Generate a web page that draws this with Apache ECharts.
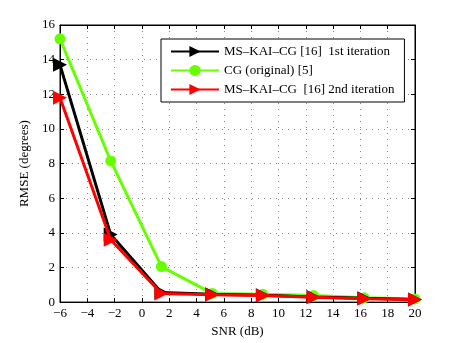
<!DOCTYPE html>
<html>
<head>
<meta charset="utf-8">
<script src="https://cdn.jsdelivr.net/npm/echarts@6/dist/echarts.min.js"></script>
<style>
  html, body { margin: 0; padding: 0; background: #fff; }
  #chart { width: 458px; height: 343px; }
</style>
</head>
<body>
<div id="chart"></div>
<script>
// SNR points (dB)
const snr = [-6, -2.286, 1.429, 5.143, 8.857, 12.571, 16.286, 20];

const firstIter = [13.7, 3.9, 0.55, 0.45, 0.4, 0.3, 0.22, 0.15];
const cgOriginal = [15.2, 8.15, 2.05, 0.5, 0.45, 0.38, 0.25, 0.18];
const secondIter = [11.8, 3.6, 0.5, 0.42, 0.38, 0.28, 0.2, 0.15];

const seriesNames = [
    'MS\u2013KAI\u2013CG [16]  1st iteration',
    'CG (original) [5]',
    'MS\u2013KAI\u2013CG  [16] 2nd iteration'
];

const xTicks = [-6, -4, -2, 0, 2, 4, 6, 8, 10, 12, 14, 16, 18, 20];
const yTicks = [0, 2, 4, 6, 8, 10, 12, 14, 16];

const font = 'Liberation Serif';

function pairs(ys) {
    return snr.map((x, i) => [x, ys[i]]);
}

const chart = echarts.init(document.getElementById('chart'));

const gridLine = { show: true, lineStyle: { color: '#888', type: [1, 5], width: 1 } };

chart.setOption({
    animation: false,
    grid: { left: 60, right: 43, top: 25, bottom: 39, show: true, borderColor: '#000', borderWidth: 1 },
    legend: {
        left: 161, top: 39, orient: 'vertical',
        itemWidth: 48, itemHeight: 14, itemGap: 6,
        padding: [6, 10, 6, 9],
        borderColor: '#000', borderWidth: 1, borderRadius: 0,
        backgroundColor: '#fff',
        textStyle: { fontFamily: font, fontSize: 13, color: '#000' },
        data: seriesNames
    },
    xAxis: [{
        type: 'value', min: -6, max: 20, interval: 2,
        name: 'SNR (dB)', nameLocation: 'middle', nameGap: 21,
        nameTextStyle: { fontFamily: font, fontSize: 13, color: '#000' },
        axisLine: { onZero: false, lineStyle: { color: '#000' } },
        axisTick: { inside: true, length: 4, lineStyle: { color: '#000' } },
        axisLabel: { fontFamily: font, fontSize: 13, color: '#000', margin: 5,
            formatter: v => xTicks.includes(v) ? String(v).replace('-', '\u2212') : '' },
        splitLine: gridLine
    }, {
        type: 'value', min: -6, max: 20, interval: 2, position: 'top',
        axisLine: { onZero: false, lineStyle: { color: '#000' } },
        axisTick: { inside: true, length: 4, lineStyle: { color: '#000' } },
        axisLabel: { show: false }, splitLine: { show: false }
    }],
    yAxis: [{
        type: 'value', min: 0, max: 16, interval: 2,
        name: 'RMSE (degrees)', nameLocation: 'middle', nameGap: 28,
        nameTextStyle: { fontFamily: font, fontSize: 13, color: '#000' },
        axisLine: { show: true, onZero: false, lineStyle: { color: '#000' } },
        axisTick: { show: true, inside: true, length: 4, lineStyle: { color: '#000' } },
        axisLabel: { fontFamily: font, fontSize: 13, color: '#000', margin: 5,
            formatter: v => yTicks.includes(v) ? String(v) : '' },
        splitLine: gridLine
    }, {
        type: 'value', min: 0, max: 16, interval: 2, position: 'right',
        axisLine: { show: true, onZero: false, lineStyle: { color: '#000' } },
        axisTick: { show: true, inside: true, length: 4, lineStyle: { color: '#000' } },
        axisLabel: { show: false }, splitLine: { show: false }
    }],
    series: [{
        name: seriesNames[0], type: 'line', data: pairs(firstIter),
        symbol: 'triangle', symbolSize: 14, symbolRotate: -90,
        itemStyle: { color: '#000' }, lineStyle: { color: '#000', width: 3 }, z: 3
    }, {
        name: seriesNames[1], type: 'line', data: pairs(cgOriginal),
        symbol: 'circle', symbolSize: 11,
        itemStyle: { color: '#66ff00' }, lineStyle: { color: '#66ff00', width: 3 }, z: 2
    }, {
        name: seriesNames[2], type: 'line', data: pairs(secondIter),
        symbol: 'triangle', symbolSize: 14, symbolRotate: -90,
        itemStyle: { color: '#ff0000' }, lineStyle: { color: '#ff0000', width: 3 }, z: 4
    }]
});
</script>
</body>
</html>
